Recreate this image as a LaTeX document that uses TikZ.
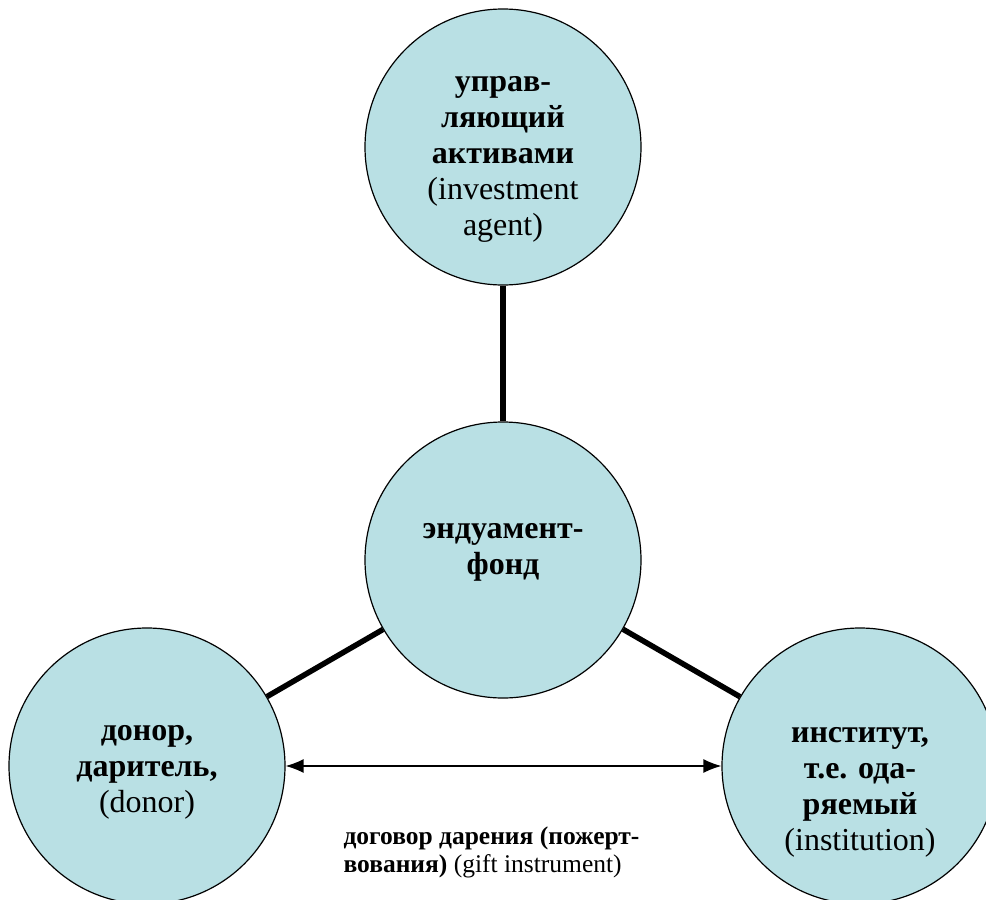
\documentclass[tikz,border=0pt]{standalone}
\usepackage{fontspec}
\setmainfont{Liberation Serif}
\usetikzlibrary{positioning, arrows.meta}
\definecolor{fundblue}{RGB}{185,224,228}

\begin{document}
\begin{tikzpicture}[x=1pt,y=-1pt,on grid,
    fund/.style={circle,draw,line width=1.2pt,fill=fundblue,minimum size=276pt,inner sep=0pt},
    link/.style={line width=5.5pt},
    caption/.style={align=center,font=\fontsize{32}{36}\selectfont}]
  \useasboundingbox (0,0) rectangle (986,900);
  \clip (0,0) rectangle (986,900);
  % circles
  \node[fund] (fond) at (503,560) {};
  \node[fund] (agent) [above=413pt of fond] {};
  \node[fund] (donor) [below left=206pt and 356pt of fond] {};
  \node[fund] (inst) [below right=206pt and 357pt of fond] {};
  % links
  \draw[link] (agent) -- (fond);
  \draw[link] (fond) -- (donor);
  \draw[link] (fond) -- (inst);
  \draw[{Latex[length=18pt,width=14pt]}-{Latex[length=18pt,width=14pt]},line width=1.4pt] (donor) -- (inst);
  % texts
  \node[caption] (agenttext) at ([yshift=-12pt]agent.center) {\textbf{управ-}\\\textbf{ляющий}\\\textbf{активами}\\(investment\\agent)};
  \node[caption] (fondtext) at ([yshift=8pt]fond.center) {\textbf{эндуамент-}\\\textbf{фонд}};
  \node[caption] (donortext) at ([yshift=-6pt]donor.center) {\textbf{донор,}\\\textbf{даритель,}\\(donor)};
  \node[caption] (insttext) at ([yshift=-26pt]inst.center) {\textbf{институт,}\\\textbf{т.е. ода-}\\\textbf{ряемый}\\(institution)};
  \node[align=left,anchor=west,font=\fontsize{25.5}{28}\selectfont] (gift) at (340,852)
    {\textbf{договор дарения (пожерт-}\\\textbf{вования)} (gift instrument)};
\end{tikzpicture}
\end{document}
